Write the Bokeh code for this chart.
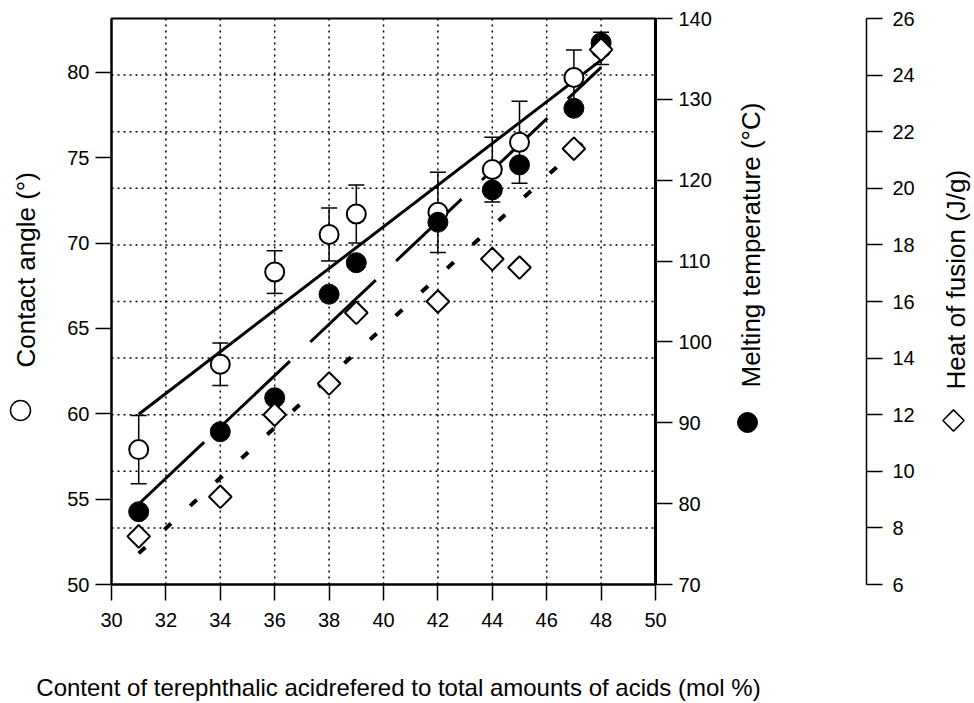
import numpy as np
from bokeh.plotting import figure
from bokeh.models import (Range1d, LinearAxis, FixedTicker, Whisker, TeeHead,
                          ColumnDataSource)
from bokeh.core.properties import value
from bokeh.embed import file_html
from bokeh.resources import INLINE

# ---------------- data ----------------
content = [31, 34, 36, 38, 39, 42, 44, 45, 47, 48]
contact_angle = [57.9, 62.9, 68.3, 70.5, 71.7, 71.8, 74.3, 75.9, 79.7, 81.4]
contact_err = [2.0, 1.25, 1.25, 1.55, 1.7, 2.35, 1.9, 2.4, 1.6, 0.95]
melting_temp = [79.0, 88.9, 93.1, 105.9, 109.8, 114.8, 118.8, 121.9, 128.9, 137.0]
heat_of_fusion = [7.7, 9.1, 12.0, 13.1, 15.6, 16.0, 17.5, 17.2, 21.4, 24.9]

x_ticks = [30, 32, 34, 36, 38, 40, 42, 44, 46, 48, 50]
contact_ticks = [50, 55, 60, 65, 70, 75, 80]
melting_ticks = [70, 80, 90, 100, 110, 120, 130, 140]
heat_ticks = [6, 8, 10, 12, 14, 16, 18, 20, 22, 24, 26]
grid_x = [32, 34, 36, 38, 40, 42, 44, 46, 48]
grid_heat = [8, 10, 12, 14, 16, 18, 20, 22, 24]

x_label = "Content of terephthalic acidrefered to total amounts of acids (mol %)"
contact_label = "Contact angle (°)"
melting_label = "Melting temperature (°C)"
heat_label = "Heat of fusion (J/g)"

# axis extents (data units)
X_LO, X_HI = 30, 50
CA_LO, CA_HI = 50, 83.15
MT_LO, MT_HI = 70, 140
HF_LO, HF_HI = 6, 26

FONT = "Liberation Sans"
TICK_FS = "20px"
XTITLE_FS = "24px"
YTITLE_FS = "26px"

# ---------------- layout (canvas pixels) ----------------
W, H = 974, 703
FL, FR, FT, FB = 111, 655, 18, 584       # plot box
HEAT_AXIS_PX = 866                        # third (detached) axis


def x_range_for(lo, hi):
    s = (FR - FL) / (hi - lo)
    return Range1d(lo - FL / s, hi + (W - FR) / s)


def y_range_for(lo, hi):
    s = (FB - FT) / (hi - lo)
    return Range1d(lo - (H - FB) / s, hi + FT / s)


xr = x_range_for(X_LO, X_HI)
yr = y_range_for(CA_LO, CA_HI)


def xd(px):
    return xr.start + px * (xr.end - xr.start) / W


def yd(py):
    return yr.end - py * (yr.end - yr.start) / H


p = figure(width=W, height=H, min_border=0, x_range=xr, y_range=yr,
           x_axis_type=None, y_axis_type=None,
           output_backend="svg", toolbar_location=None,
           background_fill_color="white", border_fill_color="white")
p.outline_line_color = None
p.xgrid.visible = False
p.ygrid.visible = False
p.extra_y_ranges = {"melt": y_range_for(MT_LO, MT_HI), "heat": y_range_for(HF_LO, HF_HI)}


def make_axis(ticks, loc, bounds, tick_out=16, standoff=6, line_width=2, **kw):
    return LinearAxis(fixed_location=loc, bounds=bounds, ticker=FixedTicker(ticks=ticks),
                      major_tick_out=tick_out, major_tick_in=0,
                      minor_tick_out=0, minor_tick_in=0,
                      major_tick_line_color="black", major_tick_line_width=1.5,
                      axis_line_color="black", axis_line_width=line_width,
                      major_label_text_font=FONT, major_label_text_font_size=TICK_FS,
                      major_label_text_color="black", major_label_standoff=standoff, **kw)


# dotted grid, limited to the plot box
p.segment(x0=grid_x, y0=[CA_LO] * len(grid_x), x1=grid_x, y1=[CA_HI] * len(grid_x),
          line_color="black", line_width=1.5, line_dash="2 4")
p.segment(x0=[X_LO] * len(grid_heat), y0=grid_heat, x1=[X_HI] * len(grid_heat),
          y1=grid_heat, y_range_name="heat",
          line_color="black", line_width=1.5, line_dash="2 4")

# plot box outline
p.quad(left=[X_LO], right=[X_HI], bottom=[CA_LO], top=[CA_HI], fill_color=None,
       line_color="black", line_width=2)

p.add_layout(make_axis(x_ticks, CA_LO, (X_LO, X_HI), standoff=12), "below")
p.add_layout(make_axis(contact_ticks, X_LO, (CA_LO, CA_HI)), "left")
p.add_layout(make_axis(melting_ticks, X_HI, (MT_LO, MT_HI), tick_out=17, line_width=3,
                       y_range_name="melt"), "right")
p.add_layout(make_axis(heat_ticks, xd(HEAT_AXIS_PX), (HF_LO, HF_HI), standoff=10,
                       line_width=1.5, y_range_name="heat"), "right")

# regression lines (least squares fits of the data)
xs = np.array(content, dtype=float)
fit_x = [min(content), max(content)]


def fit_line(values):
    k, b = np.polyfit(xs, np.array(values, dtype=float), 1)
    return [k * v + b for v in fit_x]


p.line(fit_x, fit_line(contact_angle), line_color="black", line_width=3)
p.line(fit_x, fit_line(melting_temp), y_range_name="melt", line_color="black",
       line_width=3, line_dash="90 28")
p.line(fit_x, fit_line(heat_of_fusion), y_range_name="heat", line_color="black",
       line_width=4, line_dash="9 26")

# error bars for contact angle
src = ColumnDataSource(dict(
    x=content, y=contact_angle,
    lower=[v - e for v, e in zip(contact_angle, contact_err)],
    upper=[v + e for v, e in zip(contact_angle, contact_err)]))
p.add_layout(Whisker(source=src, base="x", lower="lower", upper="upper", dimension="height",
                     line_color="black", line_width=1.5,
                     upper_head=TeeHead(size=16, line_color="black", line_width=1.5),
                     lower_head=TeeHead(size=16, line_color="black", line_width=1.5)))

# data markers
p.scatter(content, contact_angle, marker="circle", size=19, fill_color="white",
          line_color="black", line_width=2)
p.scatter(content, melting_temp, y_range_name="melt", marker="circle", size=20,
          fill_color="black", line_color="black", line_width=1)
p.scatter(content, heat_of_fusion, y_range_name="heat", marker="square", angle=np.pi / 4,
          size=16, fill_color="white", line_color="black", line_width=2)

# axis titles (rotated ones read bottom-to-top) and their symbol keys
p.text(x=[xd(398)], y=[yd(687)], text=[x_label], text_align="center",
       text_baseline="alphabetic", text_font=value(FONT), text_font_size=XTITLE_FS,
       text_color="black")
for label, cx, cy in [(contact_label, 25, 367), (melting_label, 750, 387),
                      (heat_label, 955, 389)]:
    p.text(x=[xd(cx)], y=[yd(cy)], text=[label], angle=np.pi / 2, text_align="left",
           text_baseline="middle", text_font=value(FONT), text_font_size=YTITLE_FS,
           text_color="black")

p.scatter([xd(20)], [yd(410)], marker="circle", size=20, fill_color="white",
          line_color="black", line_width=1.5)
p.scatter([xd(747)], [yd(422)], marker="circle", size=20, fill_color="black",
          line_color="black")
p.scatter([xd(953)], [yd(420)], marker="square", angle=np.pi / 4, size=15,
          fill_color="white", line_color="black", line_width=1.5)

open("out.html", "w").write(file_html(p, INLINE))
